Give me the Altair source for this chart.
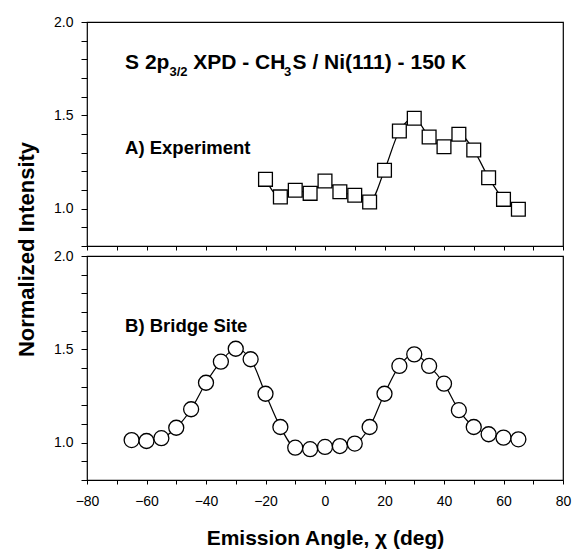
import altair as alt
import pandas as pd

# ---------------- data ----------------
exp_angle = [-20, -15, -10, -5, 0, 5, 10, 15, 20, 25, 30, 35, 40, 45, 50, 55, 60, 65]
exp_int = [1.157, 1.063, 1.099, 1.082, 1.148, 1.091, 1.072, 1.036, 1.206, 1.416,
           1.484, 1.384, 1.332, 1.399, 1.314, 1.166, 1.050, 0.997]

bridge_angle = [-65, -60, -55, -50, -45, -40, -35, -30, -25, -20, -15, -10, -5, 0,
                5, 10, 15, 20, 25, 30, 35, 40, 45, 50, 55, 60, 65]
bridge_int = [1.014, 1.009, 1.024, 1.080, 1.179, 1.321, 1.434, 1.503, 1.447, 1.262,
              1.084, 0.973, 0.965, 0.977, 0.982, 0.995, 1.084, 1.262, 1.411, 1.473,
              1.411, 1.316, 1.174, 1.084, 1.045, 1.027, 1.018]

x_ticks = [-80, -70, -60, -50, -40, -30, -20, -10, 0, 10, 20, 30, 40, 50, 60, 70, 80]
x_labels = [-80, -60, -40, -20, 0, 20, 40, 60, 80]
y_ticks = [0.8, 0.9, 1.0, 1.1, 1.2, 1.3, 1.4, 1.5, 1.6, 1.7, 1.8, 1.9, 2.0]
y_labels = [1.0, 1.5, 2.0]

title_parts = ["S 2p", "3/2", "XPD - CH", "3", "S / Ni(111) - 150 K"]
title_x = [-67.2, -52.3, -44.3, -13.8, -10.9]
title_y = [1.747, 1.711, 1.747, 1.711, 1.747]
title_fs = [21, 13, 21, 13, 21]

panel_a_label = "A) Experiment"
panel_b_label = "B) Bridge Site"

FONT = "Liberation Sans"
W, H = 476, 224

exp_df = pd.DataFrame({"angle": exp_angle, "intensity": exp_int})
bridge_df = pd.DataFrame({"angle": bridge_angle, "intensity": bridge_int})
title_df = pd.DataFrame({"x": title_x, "y": title_y, "t": title_parts, "fs": title_fs})
a_df = pd.DataFrame({"x": [-67.2], "y": [1.295], "t": [panel_a_label]})
b_df = pd.DataFrame({"x": [-67.2], "y": [1.595], "t": [panel_b_label]})

xlab_expr = "(" + " || ".join(f"datum.value == {v}" for v in x_labels) + ") ? datum.label : ''"
ylab_expr = "(" + " || ".join(f"abs(datum.value - {v}) < 0.001" for v in y_labels) + ") ? format(datum.value, '.1f') : ''"

xscale = alt.Scale(domain=[-80, 80], nice=False, zero=False)
yscale = alt.Scale(domain=[0.8, 2.0], nice=False, zero=False)


def x_axis(show_labels):
    kw = dict(values=x_ticks, tickCount=40, tickSize=4, tickColor="black", tickWidth=1,
              domain=False, grid=False, labelFont=FONT, labelFontSize=14,
              labelColor="black", labelPadding=10, labelFlush=False,
              labelOverlap=False)
    if show_labels:
        kw.update(labelExpr=xlab_expr, title="Emission Angle, χ (deg)",
                  titleFont=FONT, titleFontSize=21, titleFontWeight="bold",
                  titleColor="black", titleBaseline="alphabetic", titleY=64)
    else:
        kw.update(labels=False, title=None)
    return alt.Axis(**kw)


def y_axis(with_title):
    kw = dict(values=y_ticks, tickCount=40, labelExpr=ylab_expr, tickSize=6,
              tickColor="black", tickWidth=1, domain=False, grid=False,
              labelFont=FONT, labelFontSize=14, labelColor="black",
              labelPadding=8, labelOverlap=False)
    if with_title:
        kw.update(title="Normalized Intensity", titleFont=FONT, titleFontSize=22,
                  titleFontWeight="bold", titleColor="black", titleAngle=270,
                  titleBaseline="alphabetic", titleX=-54, titleY=227,
                  titleAlign="center")
    else:
        kw.update(title=None)
    return alt.Axis(**kw)


def panel(df, shape, size, label_df, with_ytitle, show_xlabels, extra=None):
    base = alt.Chart(df)
    line = base.mark_line(color="black", strokeWidth=1.2, interpolate="monotone").encode(
        x=alt.X("angle:Q", scale=xscale, axis=x_axis(show_xlabels)),
        y=alt.Y("intensity:Q", scale=yscale, axis=y_axis(with_ytitle)),
    )
    pts = base.mark_point(shape=shape, size=size, filled=True, fill="white",
                          stroke="black", strokeWidth=1.3, opacity=1).encode(
        x=alt.X("angle:Q", scale=xscale),
        y=alt.Y("intensity:Q", scale=yscale),
    )
    lab = alt.Chart(label_df).mark_text(align="left", baseline="alphabetic", font=FONT,
                                         fontWeight="bold", fontSize=18.5,
                                         color="black").encode(
        x=alt.X("x:Q", scale=xscale),
        y=alt.Y("y:Q", scale=yscale),
        text="t:N",
    )
    layers = [line, pts, lab]
    if extra is not None:
        layers.append(extra)
    return alt.layer(*layers).properties(width=W, height=H)


title_txt = alt.Chart(title_df).mark_text(align="left", baseline="alphabetic", font=FONT,
                                          fontWeight="bold", color="black").encode(
    x=alt.X("x:Q", scale=xscale),
    y=alt.Y("y:Q", scale=yscale),
    text="t:N",
    size=alt.Size("fs:Q", scale=None, legend=None),
)

top = panel(exp_df, "square", 190, a_df, True, False, extra=title_txt)
bottom = panel(bridge_df, "circle", 225, b_df, False, True)

chart = alt.vconcat(top, bottom, spacing=10, bounds="flush").properties(
    padding={"left": 14, "top": 14, "right": 5, "bottom": 5},
    background="white",
).configure_view(stroke="black", strokeWidth=1.2)

chart.save("out.html", embed_options={"renderer": "svg", "actions": False})
